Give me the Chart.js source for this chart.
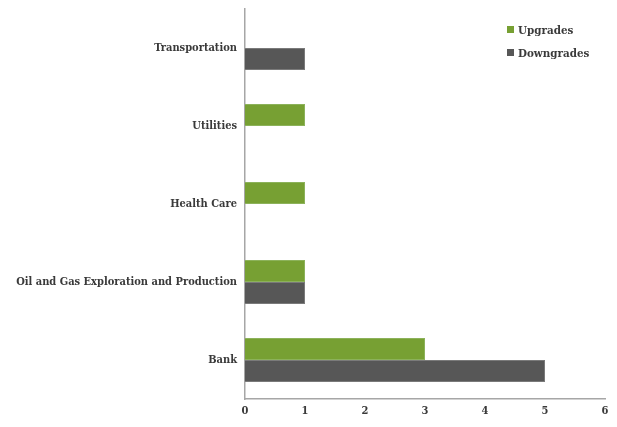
<!DOCTYPE html>
<html>
<head>
<meta charset="utf-8">
<script src="https://cdn.jsdelivr.net/npm/chart.js@4.4.0/dist/chart.umd.min.js"></script>
<style>
  html, body { margin: 0; padding: 0; background: #fff; }
  #wrap { position: relative; width: 617px; height: 427px; }
  #legend { position: absolute; left: 507px; top: 21px; font-family: "DejaVu Serif Condensed", "DejaVu Serif", serif; font-weight: bold; font-size: 11.5px; color: #3a3a3a; }
  #legend div { height: 23px; line-height: 18px; white-space: nowrap; }
  #legend span { display: inline-block; width: 7px; height: 7px; margin-right: 4px; vertical-align: 1px; }
</style>
</head>
<body>
<div id="wrap">
  <canvas id="chart" width="617" height="427"></canvas>
  <div id="legend"></div>
</div>
<script>
const categories = ["Transportation", "Utilities", "Health Care", "Oil and Gas Exploration and Production", "Bank"];
const upgrades = [0, 1, 1, 1, 3];
const downgrades = [1, 0, 0, 1, 5];
const xTicks = [0, 1, 2, 3, 4, 5, 6];

const seriesNames = ["Upgrades", "Downgrades"];
const colors = ["#77a033", "#575757"];
const labelFont = { family: "DejaVu Serif Condensed", size: 11, weight: "bold" };

document.getElementById("legend").innerHTML = seriesNames
    .map((n, i) => `<div><span style="background:${colors[i]}"></span>${n}</div>`)
    .join("");

const ctx = document.getElementById("chart");
new Chart(ctx, {
    type: "bar",
    data: {
        labels: categories,
        datasets: [
            {
                label: seriesNames[0],
                data: upgrades,
                backgroundColor: colors[0],
                borderColor: "#8cb25a",
                borderWidth: 1,
                categoryPercentage: 0.565,
                barPercentage: 1,
            },
            {
                label: seriesNames[1],
                data: downgrades,
                backgroundColor: colors[1],
                borderColor: "#7a7a7a",
                borderWidth: 1,
                categoryPercentage: 0.565,
                barPercentage: 1,
            },
        ],
    },
    options: {
        indexAxis: "y",
        responsive: false,
        animation: false,
        layout: { padding: { top: 9, right: 12, left: 0, bottom: 0 } },
        plugins: {
            legend: { display: false },
            tooltip: { enabled: false },
        },
        scales: {
            x: {
                min: 0,
                max: 6,
                afterBuildTicks: (scale) => {
                    scale.ticks = xTicks.map((v) => ({ value: v }));
                },
                afterFit: (scale) => {
                    scale.height = 28;
                },
                grid: { display: false, drawTicks: false },
                border: { display: true, color: "#a6a6a6", width: 1.5 },
                ticks: {
                    padding: 6,
                    color: "#3a3a3a",
                    font: labelFont,
                },
            },
            y: {
                afterFit: (scale) => {
                    scale.width = 245;
                    scale.paddingTop = 0;
                    scale.paddingBottom = 0;
                },
                grid: { display: false, drawTicks: false },
                border: { display: true, color: "#a6a6a6", width: 1.5 },
                ticks: {
                    padding: 8,
                    color: "#3a3a3a",
                    font: labelFont,
                },
            },
        },
    },
});
</script>
</body>
</html>
